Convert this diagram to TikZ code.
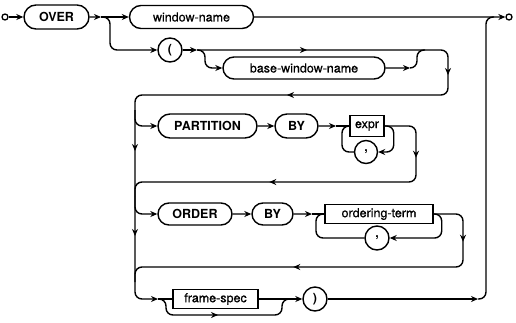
\documentclass[tikz,border=0pt]{standalone}
\usepackage{fontspec}
\setmainfont{TeX Gyre Heros}
\newfontfamily\ntfont[FakeBold=0.6]{TeX Gyre Heros}
\usetikzlibrary{arrows.meta,shapes.misc,decorations.markings}

\tikzset{
    flowtip/.style={postaction={decorate,decoration={markings,
        mark=at position #1 with {\arrow{Stealth[length=7pt,width=6pt]}}}}}
}

\begin{document}
\begin{tikzpicture}[x=1pt, y=-1pt,
    >={Stealth[length=7pt,width=6pt]},
    flow/.style={line width=1.4pt, rounded corners=7pt},
    kw/.style={rounded rectangle, draw, line width=1.4pt, minimum height=24pt, inner sep=0pt, font=\bfseries\fontsize{12.5}{14}\selectfont},
    nt_round/.style={rounded rectangle, draw, line width=1.4pt, minimum height=23pt, inner sep=0pt, font=\ntfont\fontsize{12.5}{14}\selectfont},
    nt_box/.style={rectangle, draw, line width=1.4pt, minimum height=19pt, inner sep=0pt, font=\ntfont\fontsize{12.5}{14}\selectfont},
    punct/.style={circle, draw, line width=1.4pt, minimum size=24pt, inner sep=0pt, font=\bfseries\fontsize{12.5}{14}\selectfont},
    term_dot/.style={circle, draw, line width=1.3pt, minimum size=6pt, inner sep=0pt}
]
\useasboundingbox (0,0) rectangle (516,322);

% first line
\node[term_dot] (st) at (5,17) {};
\node[kw, minimum width=65pt] (over) at (56.5,17) {OVER};
\node[nt_round, minimum width=124pt] (win) at (191.5,17) {window-name};
\node[term_dot] (en) at (509,17) {};
\coordinate (b1) at (101,17);
\coordinate (jt) at (486,17);

% ( base-window-name
\node[punct] (lp) at (170,50) {(};
\node[nt_round, minimum width=162pt, minimum height=22pt] (bwn) at (304,68) {base-window-name};
\coordinate (b2) at (197,50);
\coordinate (b7) at (410,68);
\coordinate (c5) at (417,50);
\coordinate (c2) at (448,95);
\coordinate (lr1) at (135,110);

% PARTITION BY
\node[kw, minimum width=99pt] (part) at (207.5,126) {PARTITION};
\node[kw, minimum width=43pt] (by1) at (296.5,126) {BY};
\node[nt_box, minimum width=34pt, minimum height=21pt] (expr) at (367,126) {expr};
\node[punct, minimum size=23pt] (cm1) at (366,152) {,};
\coordinate (b3) at (336,126);
\coordinate (e1) at (342,126);
\coordinate (c3) at (416,182);
\coordinate (lr2) at (135,196);

% ORDER BY
\node[kw, minimum width=74pt, minimum height=22pt] (ord) at (195,214) {ORDER};
\node[kw, minimum width=41pt, minimum height=22pt] (by2) at (272.5,214) {BY};
\node[nt_box, minimum width=108pt] (oterm) at (379,214) {ordering-term};
\node[punct] (cm2) at (377,238) {,};
\coordinate (b4) at (312,214);
\coordinate (e3) at (316,214);
\coordinate (c4) at (463,267);
\coordinate (lr3) at (135,282);

% frame-spec )
\node[nt_box, minimum width=85pt] (fs) at (215.5,299) {frame-spec};
\node[punct] (rp) at (315,299) {)};
\coordinate (b5) at (158,299);
\coordinate (b6) at (290,299);
\coordinate (jr) at (478,299);

\draw[flow,->] (st) -- (over);
\draw[flow,->] (over) -- (b1);
\draw[flow,->] (b1) -- (win);
\draw[flow,->] (win) -- (en);
\draw[flow,->] (b1) -- ++(9,0) |- (lp);

\draw[flow,->] (lp) -- (b2);
\draw[flow,->] (b2) -- ++(8,0) |- (bwn);
\draw[flow,->] (bwn) -- (b7);
\draw[flow] (b7) -| (c5) -- ++(8,0);
\draw[flow,flowtip=110pt,flowtip=273pt,flowtip=451pt] (b2) -| (c2) -| (lr1);

\draw[flow,->,flowtip=41pt,flowtip=126pt] (lr1) |- (b5);
\draw[flow,->] (lr1) |- (part);
\draw[flow,->] (part) -- (by1);
\draw[flow,->] (by1) -- (b3);
\draw[flow] (b3) -- (expr);
\draw[flow,->] (expr.east) -- ++(9,0) |- (cm1);
\draw[flow] (cm1) -| (e1) -- (expr);
\draw[flow,flowtip=60pt,flowtip=228pt] (expr) -| (c3) -| (lr2);

\draw[flow,->] (lr2) |- (ord);
\draw[flow,->] (ord) -- (by2);
\draw[flow,->] (by2) -- (b4);
\draw[flow] (b4) -- (oterm);
\draw[flow,->] (oterm.east) -- ++(8,0) |- (cm2);
\draw[flow] (cm2) -| (e3) -- (oterm);
\draw[flow,flowtip=54pt,flowtip=246pt] (oterm) -| (c4) -| (lr3);

\draw[flow] (b5) -- (fs);
\draw[flow,flowtip=70pt] (b5) -- ++(8,0) |- ++(116,16) |- (b6);
\draw[flow,->] (fs) -- (rp);
\draw[flow,->] (rp) -- (jr);
\draw[flow] (jr) -| (jt) -- ++(8,0);
\end{tikzpicture}
\end{document}
